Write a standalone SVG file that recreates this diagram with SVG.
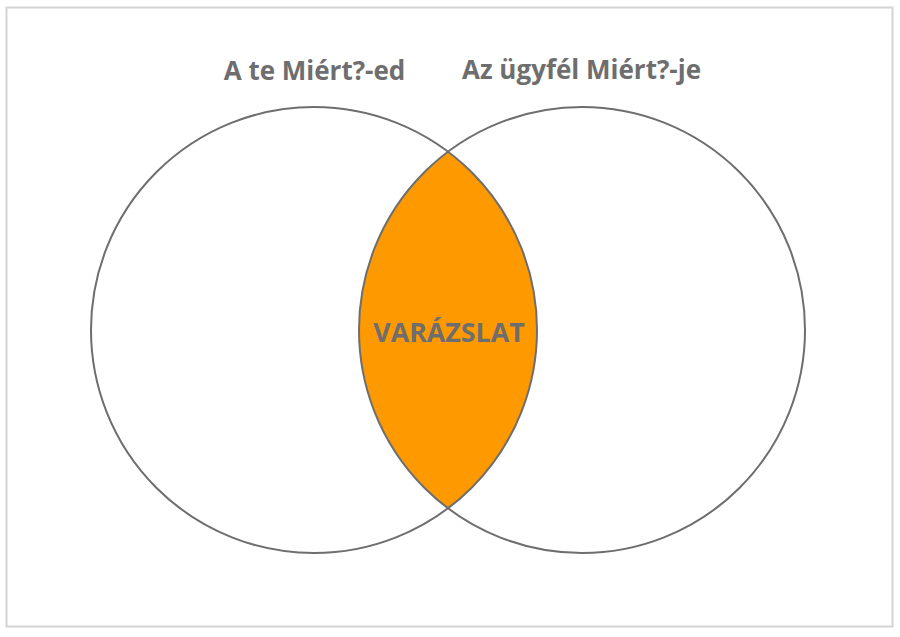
<svg xmlns="http://www.w3.org/2000/svg" width="900" height="637" viewBox="0 0 900 637">
  <style>
    .ring { fill: none; stroke: #6e6e6e; stroke-width: 2; }
    .lbl { font-family: "Open Sans", "Noto Sans", "Liberation Sans", sans-serif; font-weight: bold; fill: #6e6e6e; font-size: 26px; }
  </style>
  <rect x="0" y="0" width="900" height="637" fill="#ffffff"/>
  <rect id="frame" x="6.5" y="7.5" width="886" height="619" fill="none" stroke="#d4d4d4" stroke-width="2"/>
  <g id="lens">
    <path d="M448,152 A223,223 0 0,1 448,508 A223,223 0 0,1 448,152 Z" fill="#ff9900"/>
  </g>
  <g id="left-circle">
    <circle class="ring" cx="314" cy="330" r="223"/>
    <text class="lbl" x="314.5" y="80" text-anchor="middle">A te Miért?-ed</text>
  </g>
  <g id="right-circle">
    <circle class="ring" cx="582" cy="330" r="223"/>
    <text class="lbl" x="581.5" y="79" text-anchor="middle">Az ügyfél Miért?-je</text>
  </g>
  <g id="intersection">
    <text class="lbl" x="449" y="342" text-anchor="middle" style="font-size:26.8px">VARÁZSLAT</text>
  </g>
  <g id="connectors"></g>
</svg>
